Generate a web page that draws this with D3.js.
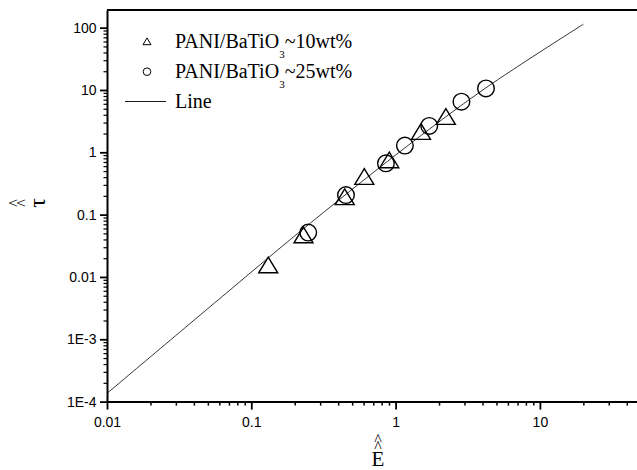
<!DOCTYPE html>
<html>
<head>
<meta charset="utf-8">
<script src="https://cdn.jsdelivr.net/npm/d3@7"></script>
<style>
  body { margin: 0; background: #fff; }
  svg { display: block; }
  .tick text { font-family: "Liberation Sans", Arial, sans-serif; font-size: 14px; fill: #000; }
  .serif { font-family: "Liberation Serif", "Times New Roman", serif; fill: #000; }
</style>
</head>
<body>
<div id="chart"></div>
<script>
// chart values
var triX = [0.131, 0.230, 0.444, 0.607, 0.904, 1.50, 2.23];
var triY = [0.0155, 0.047, 0.192, 0.406, 0.752, 2.14, 3.73];
var circX = [0.248, 0.453, 0.857, 1.16, 1.71, 2.86, 4.23];
var circY = [0.0516, 0.206, 0.666, 1.28, 2.65, 6.49, 10.6];
// the fitted "Line" bends slightly, so it is traced at a few points
var lineX = [0.01, 0.0711, 0.217, 1.07, 4.17, 20.0];
var lineY = [1.355e-4, 0.00616, 0.0532, 1.02, 10.6, 113.5];

var xTicks = [0.01, 0.1, 1, 10];
var xTickLabels = ["0.01", "0.1", "1", "10"];
var yTicks = [1e-4, 1e-3, 0.01, 0.1, 1, 10, 100];
var yTickLabels = ["1E-4", "1E-3", "0.01", "0.1", "1", "10", "100"];
var seriesNames = ["PANI/BaTiO", "PANI/BaTiO"];
var seriesSuffix = ["~10wt%", "~25wt%"];

var svgWidth = 637;
var svgHeight = 470;

var svg = d3.select("#chart")
  .append("svg")
  .attr("width", svgWidth)
  .attr("height", svgHeight);

// log scales (x axis runs past the right edge of the picture)
var xScale = d3.scaleLog()
  .domain([0.01, 100])
  .range([107, 684.2]);

var yScale = d3.scaleLog()
  .domain([1e-4, 192])
  .range([401.6, 10]);

// minor ticks 2..9 in every decade
function minors(lo, hi) {
  var out = [];
  for (var e = lo; e < hi; e++) {
    for (var k = 2; k <= 9; k++) out.push(k * Math.pow(10, e));
  }
  return out;
}

// top frame line
svg.append("line")
  .attr("x1", xScale(0.01)).attr("x2", svgWidth)
  .attr("y1", yScale.range()[1]).attr("y2", yScale.range()[1])
  .attr("stroke", "#000").attr("stroke-width", 2);

// minor ticks
svg.append("g")
  .attr("transform", `translate(0, ${yScale.range()[0]})`)
  .call(d3.axisBottom(xScale).tickValues(minors(-2, 2)).tickSize(4).tickFormat(""))
  .call(g => g.select(".domain").remove())
  .selectAll("line").attr("stroke-width", 1.5);

svg.append("g")
  .attr("transform", `translate(${xScale.range()[0]}, 0)`)
  .call(d3.axisLeft(yScale).tickValues(minors(-4, 3).filter(v => v < 192)).tickSize(3.5).tickFormat(""))
  .call(g => g.select(".domain").remove())
  .selectAll("line").attr("stroke-width", 1.2);

// major axes
var xAxis = svg.append("g")
  .attr("transform", `translate(0, ${yScale.range()[0]})`)
  .call(d3.axisBottom(xScale)
    .tickValues(xTicks)
    .tickFormat((d, i) => xTickLabels[i])
    .tickSize(8).tickSizeOuter(0).tickPadding(7));
xAxis.select(".domain").attr("stroke-width", 2);
xAxis.selectAll(".tick line").attr("stroke-width", 1.8);

var yAxis = svg.append("g")
  .attr("transform", `translate(${xScale.range()[0]}, 0)`)
  .call(d3.axisLeft(yScale)
    .tickValues(yTicks)
    .tickFormat((d, i) => yTickLabels[i])
    .tickSize(7).tickSizeOuter(0).tickPadding(3.5));
yAxis.select(".domain").attr("stroke-width", 2);
yAxis.selectAll(".tick line").attr("stroke-width", 1.8);

// fitted line
var line = d3.line()
  .x((d, i) => xScale(lineX[i]))
  .y((d, i) => yScale(lineY[i]))
  .curve(d3.curveCatmullRom);

svg.append("path")
  .datum(lineX)
  .attr("d", line)
  .attr("fill", "none")
  .attr("stroke", "#000")
  .attr("stroke-width", 0.8);

// markers
var triangle = "M0,-8L9.5,7.7L-9.5,7.7Z";
var smallTriangle = "M0,-3.6L4,3.2L-4,3.2Z";

svg.append("g").selectAll("path")
  .data(triX)
  .enter()
  .append("path")
  .attr("d", triangle)
  .attr("transform", (d, i) => `translate(${xScale(triX[i])}, ${yScale(triY[i])})`)
  .attr("fill", "none")
  .attr("stroke", "#000")
  .attr("stroke-width", 1.4);

svg.append("g").selectAll("circle")
  .data(circX)
  .enter()
  .append("circle")
  .attr("cx", (d, i) => xScale(circX[i]))
  .attr("cy", (d, i) => yScale(circY[i]))
  .attr("r", 8.3)
  .attr("fill", "none")
  .attr("stroke", "#000")
  .attr("stroke-width", 1.4);

// legend
var legend = svg.append("g");
legend.append("path")
  .attr("d", smallTriangle)
  .attr("transform", "translate(147, 41.5)")
  .attr("fill", "none").attr("stroke", "#000").attr("stroke-width", 1);
legend.append("circle")
  .attr("cx", 147).attr("cy", 71.7).attr("r", 3.8)
  .attr("fill", "none").attr("stroke", "#000").attr("stroke-width", 1);
legend.append("line")
  .attr("x1", 125).attr("x2", 166)
  .attr("y1", 101.5).attr("y2", 101.5)
  .attr("stroke", "#000").attr("stroke-width", 0.9);

seriesNames.forEach(function(name, i) {
  var t = legend.append("text")
    .attr("class", "serif")
    .attr("x", 175)
    .attr("y", 48 + i * 30)
    .style("font-size", "20px");
  t.append("tspan").text(name);
  t.append("tspan").attr("dy", 10).style("font-size", "11px").text("3");
  t.append("tspan").attr("dy", -10).text(seriesSuffix[i]);
});
legend.append("text")
  .attr("class", "serif")
  .attr("x", 175).attr("y", 108)
  .style("font-size", "20px")
  .text("Line");

// axis titles: double hat over the symbol, kept in one text each
var xTitle = svg.append("text")
  .attr("class", "serif")
  .attr("text-anchor", "middle");
xTitle.append("tspan").attr("x", 378).attr("y", 444.5).style("font-size", "16px").text("^");
xTitle.append("tspan").attr("x", 378).attr("y", 452).style("font-size", "16px").text("^");
xTitle.append("tspan").attr("x", 378).attr("y", 465.5).style("font-size", "21px").text("E");

var yTitle = svg.append("text")
  .attr("class", "serif")
  .attr("text-anchor", "middle")
  .attr("transform", "translate(0, 203) rotate(-90)");
yTitle.append("tspan").attr("x", 0).attr("y", 20).style("font-size", "16px").text("^");
yTitle.append("tspan").attr("x", 0).attr("y", 28).style("font-size", "16px").text("^");
yTitle.append("tspan").attr("x", 0).attr("y", 45).style("font-size", "24px").text("τ");
</script>
</body>
</html>
